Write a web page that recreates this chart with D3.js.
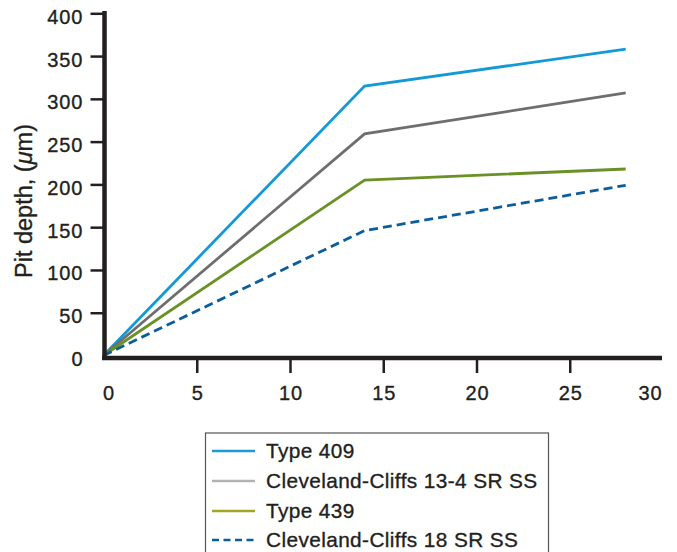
<!DOCTYPE html>
<html>
<head>
<meta charset="utf-8">
<script src="https://cdn.jsdelivr.net/npm/d3@7"></script>
<style>
  html, body { margin: 0; padding: 0; background: #fff; }
  svg { display: block; font-family: "Liberation Sans", Arial, Helvetica, sans-serif; }
  text { stroke: #231f20; stroke-width: 0.35px; }
</style>
</head>
<body>
<svg id="chart" width="677" height="552"></svg>
<script>
const days = [0, 14, 28];
const type409 = [0, 315, 358];
const cc134 = [0, 259, 307];
const type439 = [0, 205, 218];
const cc18 = [0, 146, 199];
const seriesNames = ["Type 409", "Cleveland-Cliffs 13-4 SR SS", "Type 439", "Cleveland-Cliffs 18 SR SS"];
const xTicks = [0, 5, 10, 15, 20, 25, 30];
const yTicks = [0, 50, 100, 150, 200, 250, 300, 350, 400];

const series = [
  { name: seriesNames[0], values: type409, color: "#139ad6", legendColor: "#1b9ad6", dash: null },
  { name: seriesNames[1], values: cc134, color: "#6e6e70", legendColor: "#b2b2b4", dash: null },
  { name: seriesNames[2], values: type439, color: "#6a9126", legendColor: "#a3a61c", dash: null },
  { name: seriesNames[3], values: cc18, color: "#0b5d9c", legendColor: "#0b5d9c", dash: "9,5" }
];

const svg = d3.select("#chart");
const x = d3.scaleLinear().domain([0, 30]).range([103.5, 663]);
const y = d3.scaleLinear().domain([0, 400]).range([355.5, 13.3]);

// lines
const line = d3.line().x((d, i) => x(days[i])).y(d => y(d));
series.forEach(s => {
  svg.append("path")
    .datum(s.values)
    .attr("fill", "none")
    .attr("stroke", s.color)
    .attr("stroke-width", 2.8)
    .attr("stroke-dasharray", s.dash)
    .attr("d", line);
});

// y axis
const yAxis = d3.axisLeft(y).tickValues(yTicks).tickSize(14).tickPadding(8);
const ya = svg.append("g").attr("transform", "translate(104.5,0)").call(yAxis);
ya.attr("font-family", null).attr("font-size", null);
ya.select(".domain").remove();
ya.selectAll(".tick line").attr("stroke", "#231f20").attr("stroke-width", 2.5);
ya.selectAll(".tick").filter(d => d === 0).select("line").remove();
ya.selectAll(".tick text")
  .attr("font-size", 20).attr("letter-spacing", 1).attr("fill", "#231f20")
  .attr("x", -21).attr("dy", null).attr("y", 10);
svg.append("line").attr("x1", 104.5).attr("x2", 104.5).attr("y1", 11).attr("y2", 360)
  .attr("stroke", "#231f20").attr("stroke-width", 4.5);

// x axis
const xAxis = d3.axisBottom(x).tickValues(xTicks).tickSize(15).tickPadding(9);
const xa = svg.append("g").attr("transform", "translate(0,358)").call(xAxis);
xa.attr("font-family", null).attr("font-size", null);
xa.select(".domain").remove();
xa.selectAll(".tick line").attr("stroke", "#231f20").attr("stroke-width", 2.5);
xa.selectAll(".tick").filter(d => d === 0 || d === 30).select("line").remove();
xa.selectAll(".tick text")
  .attr("font-size", 20).attr("letter-spacing", 1).attr("fill", "#231f20")
  .attr("dy", null).attr("y", 42)
  .attr("x", d => d === 0 ? 5 : (d === 30 ? -13 : 0.5));
svg.append("line").attr("x1", 102).attr("x2", 662).attr("y1", 358).attr("y2", 358)
  .attr("stroke", "#231f20").attr("stroke-width", 4.5);

// y label
svg.append("text")
  .attr("transform", "translate(32,201) rotate(-90)")
  .attr("text-anchor", "middle")
  .attr("font-size", 23.5)
  .attr("fill", "#231f20")
  .html('Pit depth, (<tspan font-style="italic">μ</tspan>m)');

// legend
const lg = svg.append("g");
lg.append("rect").attr("x", 205.5).attr("y", 433).attr("width", 343).attr("height", 140)
  .attr("fill", "none").attr("stroke", "#555").attr("stroke-width", 1.2);
const ly = [451, 481, 511, 540];
series.forEach((s, i) => {
  lg.append("line").attr("x1", 212).attr("x2", 255).attr("y1", ly[i]).attr("y2", ly[i])
    .attr("stroke", s.legendColor).attr("stroke-width", 2.6)
    .attr("stroke-dasharray", s.dash ? "7,4.5" : null);
  lg.append("text").attr("x", 266).attr("y", ly[i]).attr("dy", "0.35em")
    .attr("font-size", 20.8).attr("letter-spacing", 0.4).attr("fill", "#231f20").text(s.name);
});
</script>
</body>
</html>
